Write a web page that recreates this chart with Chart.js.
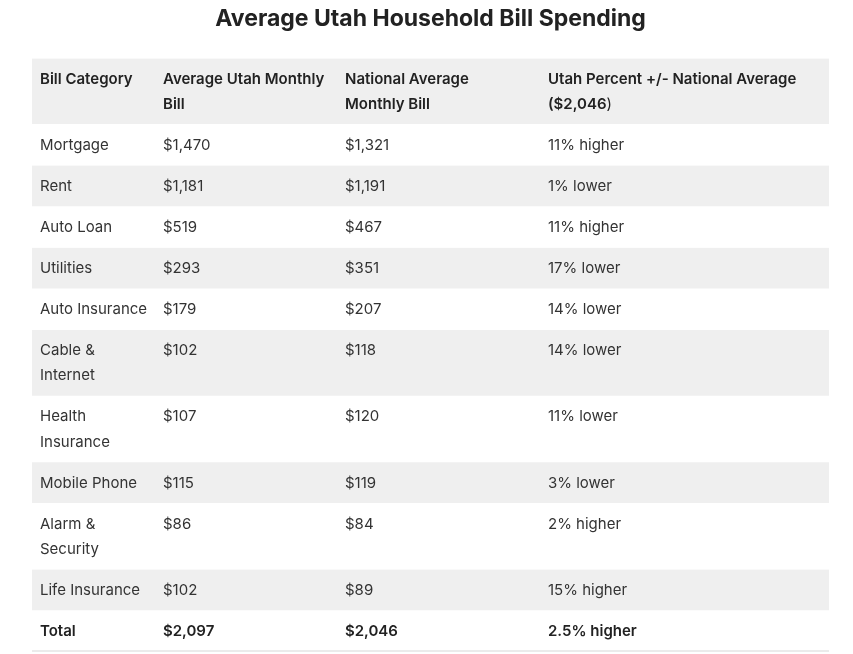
<!DOCTYPE html>
<html>
<head>
<meta charset="utf-8">
<script src="https://cdn.jsdelivr.net/npm/chart.js@4.4.0/dist/chart.umd.min.js"></script>
<style>
  html, body { margin: 0; padding: 0; background: #ffffff; }
  canvas { display: block; }
</style>
</head>
<body>
<canvas id="billTable" width="853" height="654"></canvas>
<script>
// table contents
const headers = [
    'Bill Category',
    ['Average Utah Monthly', 'Bill'],
    ['National Average', 'Monthly Bill'],
    ['Utah Percent +/- National Average', '($2,046)']
];
const categories = [
    'Mortgage', 'Rent', 'Auto Loan', 'Utilities', 'Auto Insurance',
    ['Cable &', 'Internet'], ['Health', 'Insurance'], 'Mobile Phone',
    ['Alarm &', 'Security'], 'Life Insurance'
];
const utahBill = [1470, 1181, 519, 293, 179, 102, 107, 115, 86, 102];
const nationalBill = [1321, 1191, 467, 351, 207, 118, 120, 119, 84, 89];
const percentDiff = [11, -1, 11, -17, -14, -14, -11, -3, 2, 15];
const totalRow = ['Total', 2097, 2046, '2.5% higher'];

const textColor = '#333333';
const headColor = '#222222';
const stripeColor = '#efefef';
const fontFamily = 'Inter, "Liberation Sans", sans-serif';

function money(v) {
    return '$' + v.toLocaleString('en-US');
}
function diffText(p) {
    return Math.abs(p) + '% ' + (p < 0 ? 'lower' : 'higher');
}
function lines(cell) {
    return Array.isArray(cell) ? cell : [cell];
}

// every row as a list of cells, header first
const rows = [headers];
categories.forEach(function (cat, i) {
    rows.push([cat, money(utahBill[i]), money(nationalBill[i]), diffText(percentDiff[i])]);
});
rows.push([totalRow[0], money(totalRow[1]), money(totalRow[2]), totalRow[3]]);

// row spans in table units (one unit = one pixel at this size)
const rowSpans = [];
let runningTop = 0;
rows.forEach(function (row) {
    const n = Math.max.apply(null, row.map(function (c) { return lines(c).length; }));
    const h = 15 + 25 * n;
    rowSpans.push([runningTop, runningTop + h]);
    runningTop += h + 1;
});
const tableHeight = runningTop - 1;
const tableWidth = 797;
const colStarts = [8, 131, 313, 516];

const tableText = {
    id: 'tableText',
    afterDatasetsDraw: function (chart) {
        const ctx = chart.ctx;
        const xs = chart.scales.xc;
        const ys = chart.scales.y;
        ctx.save();
        ctx.textBaseline = 'middle';
        ctx.textAlign = 'left';
        rows.forEach(function (row, r) {
            const bold = r === 0 || r === rows.length - 1;
            ctx.font = (bold ? '600 ' : '400 ') + '15px ' + fontFamily;
            ctx.fillStyle = bold ? headColor : textColor;
            row.forEach(function (cell, c) {
                lines(cell).forEach(function (line, k) {
                    const x = xs.getPixelForValue(colStarts[c]);
                    const y = ys.getPixelForValue(rowSpans[r][0] + 20.5 + k * 25);
                    if (r === 0 && line === '($2,046)') {
                        ctx.fillText('($2,046', x, y);
                        const w = ctx.measureText('($2,046').width;
                        ctx.font = '400 15px ' + fontFamily;
                        ctx.fillText(')', x + w, y);
                        ctx.font = '600 15px ' + fontFamily;
                    } else {
                        ctx.fillText(line, x, y);
                    }
                });
            });
        });
        // bottom rule under the total row
        const yb = ys.getPixelForValue(tableHeight);
        ctx.strokeStyle = '#e4e4e4';
        ctx.lineWidth = 1.5;
        ctx.beginPath();
        ctx.moveTo(chart.chartArea.left, yb);
        ctx.lineTo(chart.chartArea.right, yb);
        ctx.stroke();
        ctx.restore();
    }
};

const stripeSets = rowSpans.map(function (span, r) {
    return {
        label: 'row ' + r,
        data: [span],
        backgroundColor: r % 2 === 0 ? stripeColor : '#ffffff',
        borderWidth: 0,
        grouped: false,
        barPercentage: 1,
        categoryPercentage: 1
    };
});

new Chart(document.getElementById('billTable'), {
    type: 'bar',
    data: {
        labels: ['table'],
        datasets: stripeSets
    },
    options: {
        responsive: false,
        animation: false,
        events: [],
        layout: {
            padding: { left: 32, right: 24, top: 0, bottom: 3 }
        },
        plugins: {
            legend: { display: false },
            tooltip: { enabled: false },
            title: {
                display: true,
                text: 'Average Utah Household Bill Spending',
                color: '#222222',
                font: { family: fontFamily, size: 23, weight: '700' },
                padding: { top: 5, bottom: 26 }
            }
        },
        scales: {
            x: { display: false },
            xc: { type: 'linear', display: false, offset: false, min: 0, max: tableWidth },
            y: { type: 'linear', display: false, min: 0, max: tableHeight, reverse: true }
        }
    },
    plugins: [tableText]
});
</script>
</body>
</html>
